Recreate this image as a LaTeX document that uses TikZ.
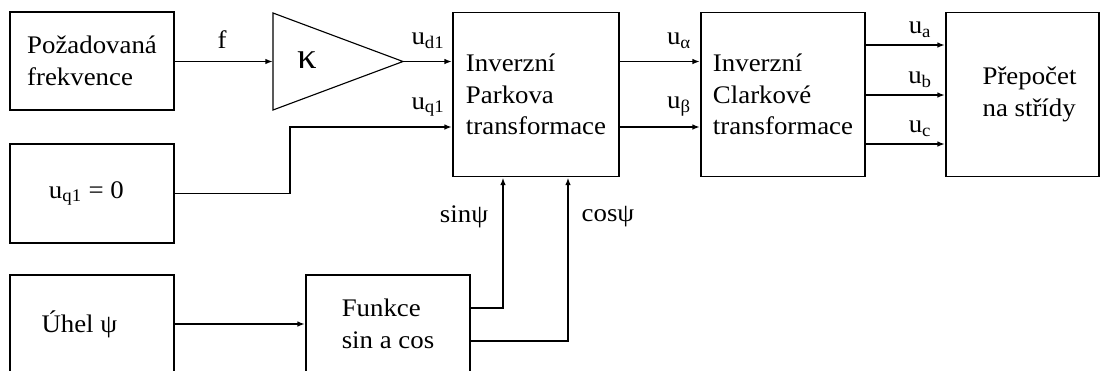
\documentclass[tikz,border=0pt]{standalone}
\usepackage{fontspec}
\setmainfont{Liberation Serif}[FakeStretch=1.06]
\usepackage{tikz}
\usetikzlibrary{arrows.meta, positioning, calc}

\begin{document}
\begin{tikzpicture}[x=0.025cm, y=-0.025cm,
    txt/.style={font=\fontsize{18}{22.5}\selectfont},
    block/.style={txt, draw, line width=1.3pt, minimum width=4.1cm, minimum height=2.45cm,
        align=left, inner sep=0pt},
    tall/.style={block, minimum height=4.1cm},
    sig/.style={-{Latex[length=5.5pt, width=4pt]}, line width=1.3pt},
    lbl/.style={txt, inner sep=0pt}]
    \clip (0,0) rectangle (1101,370);

    % Inputs
    \node[block] (req) at (92,61) {Požadovaná\\frekvence};
    \node[block, minimum height=2.475cm] (uq) at (92,193.5) {u\textsubscript{q1} = 0\hspace*{8pt}};
    \node[block] (ang) at (92,324) {Úhel ψ\hspace*{18pt}};
    \node[block] (fun) at (388,324) {Funkce\\sin a cos};

    % Gain
    \coordinate (kin) at (273,61.5);
    \coordinate (kout) at (403,61.5);
    \draw[line width=0.8pt] (273,13) -- (kout) -- (273,110) -- cycle;
    \node[lbl, font=\fontsize{26}{26}\selectfont] (kap) at (307,60) {κ};

    % Transformations
    \node[tall, minimum width=4.15cm] (park) at (536,94.5) {Inverzní\\Parkova\\transformace};
    \node[tall] (clk) at (783,94.5) {Inverzní\\Clarkové\\transformace};
    \node[tall, minimum width=3.825cm] (duty) at (1022.5,94.5) {\hspace*{10pt}Přepočet\\\hspace*{10pt}na střídy};

    % Signals
    \draw[sig] (req.east |- kin) -- (kin);
    \node[lbl] (lf) at (222,40) {f};
    \draw[sig] (kout) -- (park.west |- kout);
    \node[lbl] (ld) at (428,41) {u\textsubscript{d1}};
    \coordinate (qin) at (453,127);
    \draw[sig] (uq.east) -| (290,127) -- (park.west |- qin);
    \node[lbl] (lq) at (428,107) {u\textsubscript{q1}};

    \draw[sig] (park.east |- kout) -- (clk.west |- kout);
    \node[lbl] (lal) at (679,41) {u\textsubscript{α}};
    \draw[sig] (park.east |- qin) -- (clk.west |- qin);
    \node[lbl] (lbe) at (679,107) {u\textsubscript{β}};

    \foreach \y/\n in {45/a, 95/b, 144/c} {
        \coordinate (o\n) at (865,\y);
        \draw[sig] (clk.east |- o\n) -- (duty.west |- o\n);
        \node[lbl] at (920,\y-15) {u\textsubscript{\n}};
    }

    \draw[sig] (ang.east) -- (fun.west);
    \coordinate (fs) at (470,308);
    \coordinate (fc) at (470,341);
    \coordinate (ps) at (503,0);
    \coordinate (pc) at (568,0);
    \draw[sig] (fun.east |- fs) -| (park.south -| ps);
    \draw[sig] (fun.east |- fc) -| (park.south -| pc);
    \node[lbl] (ls) at (464,217) {sinψ};
    \node[lbl] (lc) at (608,217) {cosψ};
\end{tikzpicture}
\end{document}
